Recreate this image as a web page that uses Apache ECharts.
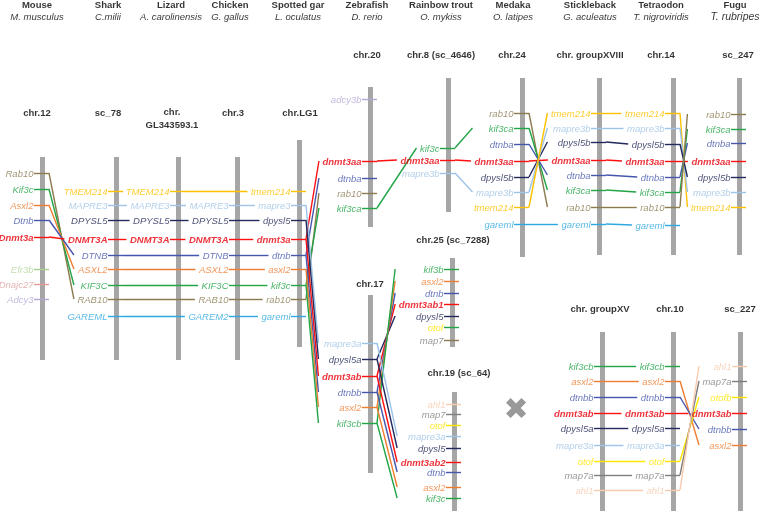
<!DOCTYPE html>
<html><head><meta charset="utf-8">
<script src="https://cdn.jsdelivr.net/npm/echarts@6/dist/echarts.min.js"></script>
<style>html,body{margin:0;padding:0;background:#fff}#c{width:760px;height:511px}</style>
</head><body><div id="c"></div>
<script>
// ================= DATA =================
const speciesNames = ['Mouse','Shark','Lizard','Chicken','Spotted gar','Zebrafish','Rainbow trout','Medaka','Stickleback','Tetraodon','Fugu'];
const speciesLatin = ['M. musculus','C.milii','A. carolinensis','G. gallus','L. oculatus','D. rerio','O. mykiss','O. latipes','G. aculeatus','T. nigroviridis','T. rubripes'];

// gene order and position along each chromosome (position in figure units)
const mouse12Genes = ['Rab10','Kif3c','Asxl2','Dtnb','Dnmt3a','Efr3b','Dnajc27','Adcy3'];
const mouse12Pos   = [173,189,205,220,237,269,284,299];
const shark78Genes = ['TMEM214','MAPRE3','DPYSL5','DNMT3A','DTNB','ASXL2','KIF3C','RAB10','GAREML'];
const shark78Pos   = [191,205,220,239,255,269,285,299,316];
const lizardGenes  = ['TMEM214','MAPRE3','DPYSL5','DNMT3A'];
const lizardPos    = [191,205,220,239];
const chicken3Genes = ['MAPRE3','DPYSL5','DNMT3A','DTNB','ASXL2','KIF3C','RAB10','GAREM2'];
const chicken3Pos   = [205,220,239,255,269,285,299,316];
const garLG1Genes = ['tmem214','mapre3','dpysl5','dnmt3a','dtnb','asxl2','kif3c','rab10','gareml'];
const garLG1Pos   = [191,205,220,239,255,269,285,299,316];
const zf20Genes = ['adcy3b','dnmt3aa','dtnba','rab10','kif3ca'];
const zf20Pos   = [99,161,178,193,208];
const zf17Genes = ['mapre3a','dpysl5a','dnmt3ab','dtnbb','asxl2','kif3cb'];
const zf17Pos   = [343,359,376,392,407,423];
const trout8Genes = ['kif3c','dnmt3aa','mapre3b'];
const trout8Pos   = [148,160,173];
const trout25Genes = ['kif3b','asxl2','dtnb','dnmt3ab1','dpysl5','otof','map7'];
const trout25Pos   = [269,281,293,304,316,327,340];
const trout19Genes = ['ahl1','map7','otof','mapre3a','dpysl5','dnmt3ab2','dtnb','asxl2','kif3c'];
const trout19Pos   = [404,414,425,436,448,462,472,487,498];
const medaka24Genes = ['rab10','kif3ca','dtnba','dnmt3aa','dpysl5b','mapre3b','tmem214','gareml'];
const medaka24Pos   = [113,128,144,161,177,192,207,224];
const stickXVIIIGenes = ['tmem214','mapre3b','dpysl5b','dnmt3aa','dtnba','kif3ca','rab10','gareml'];
const stickXVIIIPos   = [113,128,142,160,175,190,207,224];
const tetra14Genes = ['tmem214','mapre3b','dpysl5b','dnmt3aa','dtnba','kif3ca','rab10','gareml'];
const tetra14Pos   = [113,128,144,161,177,192,207,225];
const fugu247Genes = ['rab10','kif3ca','dtnba','dnmt3aa','dpysl5b','mapre3b','tmem214'];
const fugu247Pos   = [114,129,143,161,177,192,207];
const stickXVGenes = ['kif3cb','asxl2','dtnbb','dnmt3ab','dpysl5a','mapre3a','otof','map7a','ahl1'];
const stickXVPos   = [366,381,397,413,428,445,461,475,490];
const tetra10Genes = ['kif3cb','asxl2','dtnbb','dnmt3ab','dpysl5a','mapre3a','otof','map7a','ahl1'];
const tetra10Pos   = [366,381,397,413,428,445,461,475,490];
const fugu227Genes = ['ahl1','map7a','otofb','dnmt3ab','dtnbb','asxl2'];
const fugu227Pos   = [366,381,397,413,429,445];

// syntenic links: [fromChr, fromGene, toChr, toGene]
const links = [
  ['mouse12','Rab10','shark78','RAB10'],['mouse12','Kif3c','shark78','KIF3C'],['mouse12','Asxl2','shark78','ASXL2'],
  ['mouse12','Dtnb','shark78','DTNB'],['mouse12','Dnmt3a','shark78','DNMT3A'],
  ['shark78','TMEM214','lizard','TMEM214'],['shark78','MAPRE3','lizard','MAPRE3'],['shark78','DPYSL5','lizard','DPYSL5'],['shark78','DNMT3A','lizard','DNMT3A'],
  ['shark78','DTNB','chicken3','DTNB'],['shark78','ASXL2','chicken3','ASXL2'],['shark78','KIF3C','chicken3','KIF3C'],['shark78','RAB10','chicken3','RAB10'],['shark78','GAREML','chicken3','GAREM2'],
  ['lizard','MAPRE3','chicken3','MAPRE3'],['lizard','DPYSL5','chicken3','DPYSL5'],['lizard','DNMT3A','chicken3','DNMT3A'],['lizard','TMEM214','garLG1','tmem214'],
  ['chicken3','MAPRE3','garLG1','mapre3'],['chicken3','DPYSL5','garLG1','dpysl5'],['chicken3','DNMT3A','garLG1','dnmt3a'],['chicken3','DTNB','garLG1','dtnb'],
  ['chicken3','ASXL2','garLG1','asxl2'],['chicken3','KIF3C','garLG1','kif3c'],['chicken3','RAB10','garLG1','rab10'],['chicken3','GAREM2','garLG1','gareml'],
  ['garLG1','dnmt3a','zf20','dnmt3aa'],['garLG1','dtnb','zf20','dtnba'],['garLG1','rab10','zf20','rab10'],['garLG1','kif3c','zf20','kif3ca'],
  ['garLG1','mapre3','zf17','mapre3a'],['garLG1','dpysl5','zf17','dpysl5a'],['garLG1','dnmt3a','zf17','dnmt3ab'],['garLG1','dtnb','zf17','dtnbb'],
  ['garLG1','asxl2','zf17','asxl2'],['garLG1','kif3c','zf17','kif3cb'],
  ['zf20','dnmt3aa','trout8','dnmt3aa'],['zf20','kif3ca','trout8','kif3c'],
  ['trout8','kif3c','medaka24','kif3ca'],['trout8','dnmt3aa','medaka24','dnmt3aa'],['trout8','mapre3b','medaka24','mapre3b'],
  ['zf17','dpysl5a','trout25','dpysl5'],['zf17','dnmt3ab','trout25','dnmt3ab1'],['zf17','dtnbb','trout25','dtnb'],['zf17','asxl2','trout25','asxl2'],['zf17','kif3cb','trout25','kif3b'],
  ['zf17','mapre3a','trout19','mapre3a'],['zf17','dpysl5a','trout19','dpysl5'],['zf17','dnmt3ab','trout19','dnmt3ab2'],['zf17','dtnbb','trout19','dtnb'],['zf17','asxl2','trout19','asxl2'],['zf17','kif3cb','trout19','kif3c'],
  ['medaka24','rab10','stickXVIII','rab10'],['medaka24','kif3ca','stickXVIII','kif3ca'],['medaka24','dtnba','stickXVIII','dtnba'],['medaka24','dnmt3aa','stickXVIII','dnmt3aa'],
  ['medaka24','dpysl5b','stickXVIII','dpysl5b'],['medaka24','mapre3b','stickXVIII','mapre3b'],['medaka24','tmem214','stickXVIII','tmem214'],['medaka24','gareml','stickXVIII','gareml'],
  ['stickXVIII','tmem214','tetra14','tmem214'],['stickXVIII','mapre3b','tetra14','mapre3b'],['stickXVIII','dpysl5b','tetra14','dpysl5b'],['stickXVIII','dnmt3aa','tetra14','dnmt3aa'],
  ['stickXVIII','dtnba','tetra14','dtnba'],['stickXVIII','kif3ca','tetra14','kif3ca'],['stickXVIII','rab10','tetra14','rab10'],['stickXVIII','gareml','tetra14','gareml'],
  ['tetra14','tmem214','fugu247','tmem214'],['tetra14','mapre3b','fugu247','mapre3b'],['tetra14','dpysl5b','fugu247','dpysl5b'],['tetra14','dnmt3aa','fugu247','dnmt3aa'],
  ['tetra14','dtnba','fugu247','dtnba'],['tetra14','kif3ca','fugu247','kif3ca'],['tetra14','rab10','fugu247','rab10'],
  ['stickXV','kif3cb','tetra10','kif3cb'],['stickXV','asxl2','tetra10','asxl2'],['stickXV','dtnbb','tetra10','dtnbb'],['stickXV','dnmt3ab','tetra10','dnmt3ab'],
  ['stickXV','dpysl5a','tetra10','dpysl5a'],['stickXV','mapre3a','tetra10','mapre3a'],['stickXV','otof','tetra10','otof'],['stickXV','map7a','tetra10','map7a'],['stickXV','ahl1','tetra10','ahl1'],
  ['tetra10','asxl2','fugu227','asxl2'],['tetra10','dtnbb','fugu227','dtnbb'],['tetra10','dnmt3ab','fugu227','dnmt3ab'],
  ['tetra10','otof','fugu227','otofb'],['tetra10','map7a','fugu227','map7a'],['tetra10','ahl1','fugu227','ahl1']
];

// ================= LAYOUT & STYLE =================
const FONT = '"Liberation Sans",Arial,sans-serif';
const FS = 9.5;
const speciesX = [37,108,171,230,298,367,441,513,590,661,735];
const chromosomes = {
  mouse12:   {genes: mouse12Genes, pos: mouse12Pos, x:42, y0:157, y1:360, title:'chr.12', tx:37, ty:113},
  shark78:   {genes: shark78Genes, pos: shark78Pos, x:116, y0:157, y1:360, title:'sc_78', tx:108, ty:113},
  lizard:    {genes: lizardGenes, pos: lizardPos, x:178, y0:157, y1:360, title:'chr.\nGL343593.1', tx:172, ty:119},
  chicken3:  {genes: chicken3Genes, pos: chicken3Pos, x:237, y0:157, y1:360, title:'chr.3', tx:233, ty:113},
  garLG1:    {genes: garLG1Genes, pos: garLG1Pos, x:299, y0:140, y1:347, title:'chr.LG1', tx:300, ty:113},
  zf20:      {genes: zf20Genes, pos: zf20Pos, x:370, y0:87, y1:227, title:'chr.20', tx:367, ty:55},
  zf17:      {genes: zf17Genes, pos: zf17Pos, x:370, y0:295, y1:473, title:'chr.17', tx:370, ty:284},
  trout8:    {genes: trout8Genes, pos: trout8Pos, x:448, y0:78, y1:212, title:'chr.8 (sc_4646)', tx:441, ty:55},
  trout25:   {genes: trout25Genes, pos: trout25Pos, x:452, y0:258, y1:347, title:'chr.25 (sc_7288)', tx:453, ty:240},
  trout19:   {genes: trout19Genes, pos: trout19Pos, x:454, y0:392, y1:515, title:'chr.19 (sc_64)', tx:459, ty:373},
  medaka24:  {genes: medaka24Genes, pos: medaka24Pos, x:522, y0:78, y1:257, title:'chr.24', tx:512, ty:55},
  stickXVIII:{genes: stickXVIIIGenes, pos: stickXVIIIPos, x:599, y0:78, y1:255, title:'chr. groupXVIII', tx:590, ty:55},
  tetra14:   {genes: tetra14Genes, pos: tetra14Pos, x:673, y0:78, y1:255, title:'chr.14', tx:661, ty:55},
  fugu247:   {genes: fugu247Genes, pos: fugu247Pos, x:739, y0:78, y1:255, title:'sc_247', tx:738, ty:55},
  stickXV:   {genes: stickXVGenes, pos: stickXVPos, x:602, y0:332, y1:515, title:'chr. groupXV', tx:600, ty:309},
  tetra10:   {genes: tetra10Genes, pos: tetra10Pos, x:673, y0:332, y1:515, title:'chr.10', tx:670, ty:309},
  fugu227:   {genes: fugu227Genes, pos: fugu227Pos, x:740, y0:332, y1:515, title:'sc_227', tx:740, ty:309}
};
const familyColors = {
  tmem214:'#FFC000', mapre3:'#9DC3E6', dpysl5:'#232B5E', dnmt3a:'#FF1010', dtnb:'#4656AD',
  asxl2:'#ED7D31', kif3:'#22A447', rab10:'#8C7B4F', garem:'#2EA8E0', efr3b:'#A9D18E',
  dnajc27:'#E59A9A', adcy3:'#B4A7D6', otof:'#FFE600', map7:'#7F7F7F', ahl1:'#F8CBAD'
};
const labelColors = Object.assign({}, familyColors, {dnmt3a:'#E8000B', dpysl5:'#1C2050', rab10:'#8A7A50', efr3b:'#B5D69A', dnajc27:'#DDA0A0'});
const tickOverride = {'trout25:otof':'kif3', 'trout25:map7':'rab10'};
function famOf(g){ const l=g.toLowerCase(); for (const k in familyColors) if (l.startsWith(k)) return k; return 'map7'; }

const ctx = document.createElement('canvas').getContext('2d');
function textW(t, bold){ ctx.font = 'italic ' + (bold?'bold ':'') + FS + 'px ' + FONT; return ctx.measureText(t).width; }
function geneY(id, g){ const c=chromosomes[id]; return c.pos[c.genes.indexOf(g)]; }
function lblStart(id, g){ return chromosomes[id].x - 8 - textW(g, famOf(g)==='dnmt3a'); }

// ================= BUILD SERIES =================
const barData=[], tickData=[], linkData=[], labelData=[], titleData=[];
for (const id in chromosomes) {
  const c = chromosomes[id];
  barData.push({coords:[[c.x,c.y0],[c.x,c.y1]]});
  titleData.push({name:c.title, value:[c.tx,c.ty]});
  c.genes.forEach((g,i)=>{
    const y=c.pos[i], fam=famOf(g), bold=fam==='dnmt3a';
    const tfam = tickOverride[id+':'+g] || fam;
    tickData.push({coords:[[c.x-8,y],[c.x+7,y]], lineStyle:{color:familyColors[tfam]}});
    labelData.push({name:g, value:[c.x-7,y], label:{color:labelColors[fam], fontWeight: bold?'bold':'normal'}});
  });
}
// common end point for diagonal links, per chromosome pair
const diagMax = {};
links.forEach(([a,ga,b,gb])=>{
  if (Math.abs(geneY(a,ga)-geneY(b,gb))>3) {
    const k=a+'>'+b, w=textW(gb, famOf(gb)==='dnmt3a');
    diagMax[k]=Math.max(diagMax[k]||0, w);
  }
});
links.forEach(([a,ga,b,gb])=>{
  const ya=geneY(a,ga), yb=geneY(b,gb);
  const x0=chromosomes[a].x+7;
  let x1;
  if (Math.abs(ya-yb)<=3) x1 = lblStart(b,gb)-4;
  else x1 = chromosomes[b].x - 8 - diagMax[a+'>'+b] - 4;
  linkData.push({coords:[[x0,ya],[x1,yb]], lineStyle:{color:familyColors[famOf(ga)]}});
});
const headData = speciesNames.map((n,i)=>({name:n, value:[speciesX[i],5]}));
const latinData = speciesLatin.map((n,i)=>({name:n, value:[speciesX[i],17], label: n==='T. rubripes'?{fontSize:10.5}:{}}));

const chart = echarts.init(document.getElementById('c'), null, {renderer:'canvas'});
const txtSeries = (data, lbl, z) => ({type:'scatter', data, symbolSize:1, itemStyle:{color:'rgba(0,0,0,0)'}, z:z||5, silent:true,
  label:Object.assign({show:true, formatter:'{b}', fontFamily:FONT, fontSize:FS, color:'#000'}, lbl)});
chart.setOption({
  animation:false,
  grid:{left:0,right:0,top:0,bottom:0},
  xAxis:{type:'value', min:0, max:760, show:false},
  yAxis:{type:'value', min:0, max:511, inverse:true, show:false},
  series:[
    {type:'lines', coordinateSystem:'cartesian2d', data:barData, lineStyle:{width:5, color:'#A6A6A6', opacity:1, curveness:0}, z:1, silent:true},
    {type:'lines', coordinateSystem:'cartesian2d', data:tickData, lineStyle:{width:1.4, opacity:1, curveness:0}, z:2, silent:true},
    {type:'lines', coordinateSystem:'cartesian2d', data:linkData, lineStyle:{width:1.4, opacity:1, curveness:0}, z:3, silent:true},
    txtSeries(labelData, {position:'left', distance:1, fontStyle:'italic', offset:[0,1]}),
    txtSeries(titleData, {position:'inside', align:'center', verticalAlign:'middle', fontWeight:'bold', lineHeight:13}),
    txtSeries(headData, {position:'inside', align:'center', verticalAlign:'middle', fontWeight:'bold'}),
    txtSeries(latinData, {position:'inside', align:'center', verticalAlign:'middle', fontStyle:'italic'}),
    txtSeries([{name:'\u2716', value:[516,411]}], {position:'inside', align:'center', verticalAlign:'middle', fontFamily:'DejaVu Sans', fontSize:30, color:'#7F7F7F'})
  ]
});
</script></body></html>
